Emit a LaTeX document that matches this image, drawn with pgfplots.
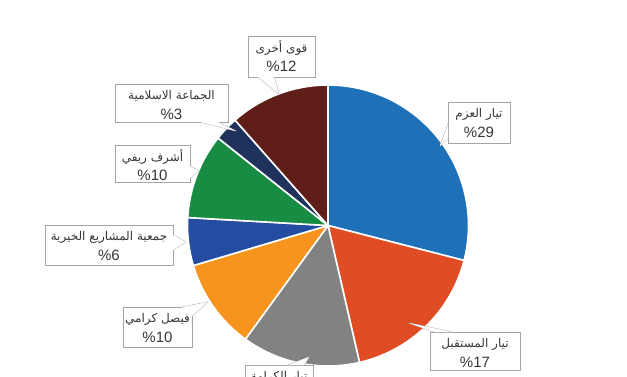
\documentclass[border=0pt]{standalone}
\usepackage{pgfplots}
\pgfplotsset{compat=1.18}
\usepackage{pgfplotstable}
\usepackage{fontspec}
\setmainfont{Liberation Sans}
\newfontfamily\arabicfont[Script=Arabic]{DejaVu Sans}
\TeXXeTstate=1
\definecolor{c0}{RGB}{30,112,184}
\definecolor{c1}{RGB}{224,76,36}
\definecolor{c2}{RGB}{130,130,130}
\definecolor{c3}{RGB}{246,148,30}
\definecolor{c4}{RGB}{36,76,160}
\definecolor{c5}{RGB}{24,140,66}
\definecolor{c6}{RGB}{30,50,92}
\definecolor{c7}{RGB}{96,30,24}
\definecolor{boxline}{RGB}{165,165,165}
\definecolor{txt}{RGB}{55,55,55}

% shares of the slices, clockwise from 12 o'clock
\pgfplotstableread{
share
29.0
17.4
13.6
10.4
5.5
9.8
2.8
11.5
}\piedata

% box x1 y1 x2 y2, pointer path, text1, text2
\newcommand\callout[7]{%
  \draw[boxline, fill=white, line width=0.8pt, line join=round] #5 -- cycle;
  \draw[boxline, fill=white, line width=0.8pt] (axis cs:#1,#2) rectangle (axis cs:#3,#4);
  \fill[white] #5 -- cycle;
  \node[txt, font=\fontsize{12}{14}\selectfont\arabicfont, inner sep=0pt] at (axis cs:{(#1+#3)/2},#2+12) {#6};
  \node[txt, font=\fontsize{15}{17}\selectfont, inner sep=0pt] at (axis cs:{(#1+#3)/2},#2+30) {\%#7};
}

\begin{document}
\begin{tikzpicture}
\useasboundingbox (0,0) rectangle (627pt,376pt);
\clip (0,0) rectangle (627pt,376pt);
\begin{axis}[
  at={(0,0)}, anchor=south west,
  x=1pt, y=1pt, y dir=reverse,
  xmin=0, xmax=627, ymin=0, ymax=376,
  hide axis, clip=false,
]
\pgfplotsextra{%
  \xdef\angA{90}%
  \pgfplotsforeachungrouped \i in {0,...,7}{%
    \pgfplotstablegetelem{\i}{share}\of\piedata
    \pgfmathsetmacro\angB{\angA-3.6*\pgfplotsretval}%
    \fill[c\i, draw=white, line width=1.6pt, line join=round]
      (axis cs:328,225.5) -- ++(\angA:140.5pt)
      arc[start angle=\angA, end angle=\angB, radius=140.5pt] -- cycle;
    \xdef\angA{\angB}%
  }%
  \callout{248}{36}{315}{77}{(axis cs:258,77) -- (axis cs:279,94) -- (axis cs:274,77)}{\beginR قوى أخرى\endR}{12}
  \callout{115}{84}{228}{122}{(axis cs:200,122) -- (axis cs:236,131) -- (axis cs:218,122)}{\beginR الجماعة الاسلامية\endR}{3}
  \callout{115}{145}{190}{182}{(axis cs:190,166) -- (axis cs:199,171) -- (axis cs:190,178)}{\beginR أشرف ريفي\endR}{10}
  \callout{45}{225}{173}{265}{(axis cs:173,235) -- (axis cs:186,242) -- (axis cs:173,250)}{\beginR جمعية المشاريع الخيرية\endR}{6}
  \callout{123}{307}{192}{347}{(axis cs:182,307) -- (axis cs:208,302) -- (axis cs:192,316)}{\beginR فيصل كرامي\endR}{10}
  \callout{430}{332}{520}{370}{(axis cs:434,332) -- (axis cs:409,323) -- (axis cs:452,332)}{\beginR تيار المستقبل\endR}{17}
  \callout{448}{102}{510}{143}{(axis cs:448,124) -- (axis cs:440,146) -- (axis cs:448,138)}{\beginR تيار العزم\endR}{29}
  \callout{245}{365}{313}{405}{(axis cs:288,365) -- (axis cs:309,357) -- (axis cs:304,365)}{\beginR تيار الكرامة\endR}{14}
}
\end{axis}
\end{tikzpicture}
\end{document}
